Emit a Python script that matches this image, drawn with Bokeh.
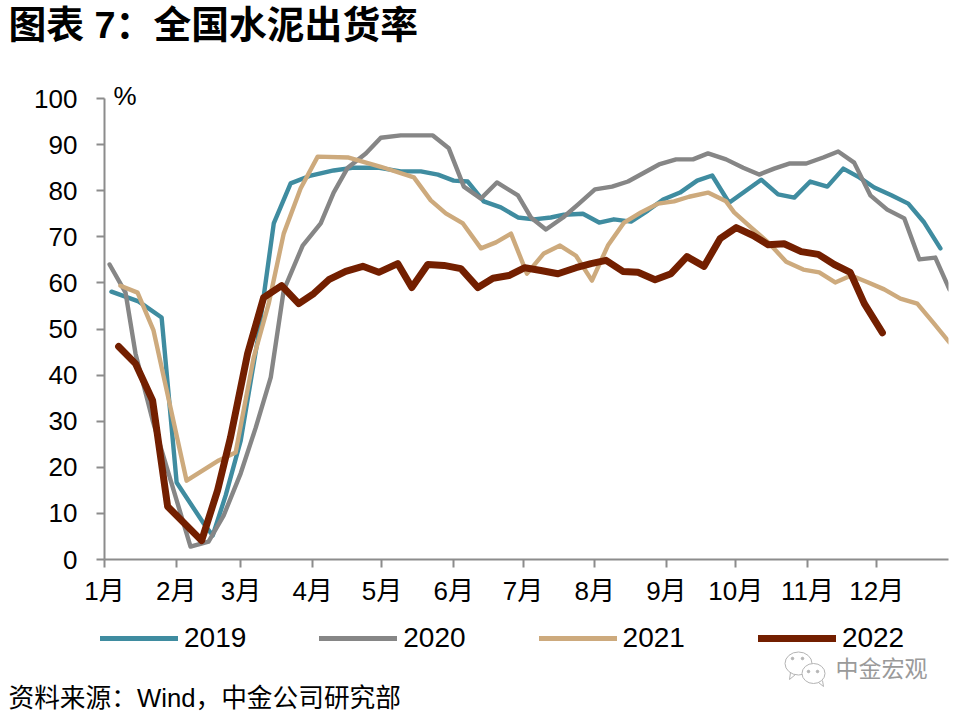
from bokeh.plotting import figure
from bokeh.layouts import column
from bokeh.models import Label, Legend, LegendItem, FixedTicker, Range1d
from bokeh.embed import file_html
from bokeh.resources import INLINE

month_days = [0, 31, 59, 90, 120, 151, 181, 212, 243, 273, 304, 334]
month_labels = ["1月", "2月", "3月", "4月", "5月", "6月", "7月", "8月", "9月", "10月", "11月", "12月"]
y_ticks = [0, 10, 20, 30, 40, 50, 60, 70, 80, 90, 100]

x2019 = [3, 14.7, 24.7, 31.2, 42.9, 46.8, 52.4, 58.9, 66.2, 73.2, 80.5, 89.2, 99.1, 107.8, 118.2, 128.1, 136.8, 144.2, 151, 157.1, 164, 171.4, 178.8, 185.7, 193, 198.7, 206.9, 213.9, 220.3, 227.7, 235, 241.6, 248.9, 256.3, 262.8, 270.1, 284, 291.3, 298.3, 305.2, 312.6, 319.5, 326.4, 332.9, 340.3, 347.6, 354.5, 361.5]
y2019 = [58.1, 56, 52.5, 16.7, 7.8, 5.2, 13.9, 25.8, 47.5, 72.9, 81.6, 83.3, 84.4, 85, 85, 84.2, 84.2, 83.5, 82.2, 82, 77.7, 76.4, 74.2, 73.8, 74.2, 74.8, 75, 73.1, 73.8, 73.3, 75.7, 78.1, 79.6, 82.2, 83.3, 77.4, 82.4, 79.2, 78.5, 82, 80.9, 84.8, 82.9, 80.7, 79, 77.2, 73.1, 67.5]

x2020 = [2.2, 9.1, 13.4, 20.8, 27.7, 37.2, 45, 51.5, 58.9, 65.4, 71.9, 77.5, 85.7, 93.5, 99.1, 105.2, 113, 119.5, 128.1, 142, 148.9, 155.4, 162.8, 169.7, 178.8, 184.4, 190.9, 198.3, 205.2, 212.1, 219.5, 226.4, 233.3, 239.8, 247.2, 254.5, 261, 268.8, 276.2, 283.1, 289.6, 296.1, 303.5, 310.8, 317.3, 324.2, 331.2, 338.5, 345.9, 352.4, 359.3, 365.4]
y2020 = [64, 57.9, 44.7, 30.2, 18.7, 2.8, 3.9, 9.5, 18.7, 28.6, 39.5, 58.4, 68.1, 72.9, 79.6, 85, 88.1, 91.5, 92, 92, 89.2, 80.9, 78.3, 81.8, 79, 74.2, 71.6, 74.2, 77.2, 80.3, 80.9, 82, 83.9, 85.7, 86.8, 86.8, 88.1, 86.8, 85, 83.5, 84.8, 85.9, 85.9, 87.2, 88.5, 86.1, 79, 75.9, 74, 65.1, 65.5, 58.6]

x2021 = [6.9, 14.3, 21.2, 35.5, 49.4, 56.7, 64.5, 71, 77.5, 84.8, 92.2, 105.6, 119.5, 133.8, 141.1, 147.6, 155, 162.8, 169.3, 175.8, 182.7, 190, 197, 203.9, 210.8, 217.7, 224.7, 232, 239.4, 246.3, 252.8, 261, 268.8, 272.3, 279.7, 287, 294.8, 302.2, 309.1, 316, 322.9, 330.3, 337.2, 344.2, 351.5, 358.4, 365.4]
y2021 = [59.4, 57.9, 49.7, 17.1, 21.5, 23.2, 43.8, 55.5, 70.7, 80.5, 87.4, 87.2, 85.2, 82.9, 77.9, 75.1, 72.9, 67.5, 68.8, 70.7, 62, 66.4, 68.1, 65.9, 60.5, 68.1, 73.1, 75.3, 77.2, 77.7, 78.7, 79.6, 77.7, 75.3, 72, 68.8, 64.6, 62.9, 62.3, 60.1, 61.6, 60.1, 58.6, 56.6, 55.5, 51.4, 47.1]

x2022 = [6.1, 13.4, 20.8, 27.3, 42, 48.9, 54.5, 61.9, 68.8, 76.6, 84, 90.5, 97, 104.3, 111.7, 118.6, 126.8, 132.9, 139.8, 146.8, 154.1, 161.5, 168, 174.9, 181.8, 188.7, 196.1, 203.9, 210.4, 216.9, 224.2, 230.7, 238.1, 245, 251.9, 259.3, 266.2, 273.2, 280.5, 287, 293.9, 301.3, 308.7, 315.6, 322.5, 328.6, 336.4]
y2022 = [46.2, 42.5, 34.5, 11.5, 4.1, 15, 26.5, 44.7, 56.8, 59.4, 55.5, 57.7, 60.7, 62.5, 63.6, 62.3, 64.2, 59, 64, 63.8, 63.1, 59, 61, 61.6, 63.3, 62.7, 62, 63.3, 64.2, 64.9, 62.5, 62.3, 60.7, 62, 65.7, 63.6, 69.6, 72, 70.3, 68.3, 68.5, 66.8, 66.2, 64, 62.3, 55.5, 49.2]

FONT = "Liberation Sans, Noto Sans CJK SC"
AXIS = "#8c8c8c"
W, PAGE_H = 960, 712
HEAD_H = 75      # band above the plot area
FRAME_BOTTOM = 559
MAIN_BOTTOM = 609


def band(height, top):
    """A blank strip of the page whose frame fills it; coordinates are page pixels."""
    f = figure(width=W, height=height, output_backend="svg", toolbar_location=None,
               x_range=Range1d(0, W), y_range=Range1d(top + height, top),
               x_axis_type=None, y_axis_type=None, min_border=0, frame_align=False)
    f.outline_line_color = None
    f.grid.visible = False
    return f


def text(f, px, py, s, size, color="black", style="normal", font=FONT):
    f.add_layout(Label(x=px, y=py, text=s, text_font=font, text_font_size=size,
                       text_color=color, text_font_style=style,
                       text_align="left", text_baseline="middle"))


# header
head = band(HEAD_H, 0)
text(head, 8, 24, "图表 7：全国水泥出货率", "37.8px", style="bold")

# chart
p = figure(width=W, height=MAIN_BOTTOM - HEAD_H, output_backend="svg", toolbar_location=None,
           x_range=Range1d(0, 365), y_range=Range1d(0, 105), frame_align=False,
           min_border_left=104, min_border_right=12, min_border_top=0,
           min_border_bottom=MAIN_BOTTOM - FRAME_BOTTOM)
p.outline_line_color = None
p.grid.visible = False
p.xaxis.ticker = FixedTicker(ticks=month_days)
p.xaxis.major_label_overrides = dict(zip(month_days, month_labels))
p.yaxis.ticker = FixedTicker(ticks=y_ticks)
p.yaxis.bounds = (0, 100)
for ax in (p.xaxis[0], p.yaxis[0]):
    ax.axis_line_color = AXIS
    ax.axis_line_width = 2
    ax.major_tick_line_color = AXIS
    ax.major_tick_line_width = 2
    ax.major_tick_in = 0
    ax.major_tick_out = 8
    ax.minor_tick_line_color = None
    ax.major_label_text_font = FONT
    ax.major_label_text_font_size = "26px"
    ax.major_label_text_color = "black"
p.xaxis.major_label_standoff = 8
p.yaxis.major_label_standoff = 19

series = [("2019", x2019, y2019, "#3f8ca0", 4.4),
          ("2020", x2020, y2020, "#868686", 4.4),
          ("2021", x2021, y2021, "#cdaa7d", 4.4),
          ("2022", x2022, y2022, "#731f00", 7)]
for name, xs, ys, col, w in series:
    p.line(xs, ys, line_color=col, line_width=w, line_cap="round", line_join="round")
p.add_layout(Label(x=9, y=FRAME_BOTTOM - 95, x_units="screen", y_units="screen", text="%",
                   text_font=FONT, text_font_size="26px", text_color="black",
                   text_baseline="middle"))

# footer: legend, watermark, source
foot = band(PAGE_H - MAIN_BOTTOM, MAIN_BOTTOM)
items = []
for name, xs, ys, col, w in series:
    r = foot.line([float("nan")], [float("nan")], line_color=col, line_width=5 if w < 6 else w,
                  line_cap="round", line_join="round")
    items.append(LegendItem(label=name, renderers=[r]))
legend = Legend(items=items, orientation="horizontal", location=(100, 58),
                glyph_width=78, glyph_height=30, label_standoff=6, spacing=73,
                padding=0, margin=0, border_line_color=None, background_fill_alpha=0,
                label_height=30, label_text_font=FONT, label_text_font_size="28px",
                label_text_color="black")
foot.add_layout(legend, "center")

ICON = "#b4b4b4"
foot.ellipse([798], [663], width=27, height=23, fill_color="white", line_color=ICON, line_width=1)
foot.line([790, 789, 795], [672, 679, 674], line_color=ICON, line_width=1)
foot.ellipse([813], [673], width=23, height=20, fill_color="white", line_color=ICON, line_width=1)
foot.line([818, 823, 822], [682, 686, 680], line_color=ICON, line_width=1)
foot.scatter([792, 802, 808, 817], [658, 658, 671, 671], size=2.5, color=ICON)
text(foot, 835, 668, "中金宏观", "23px", color="#9a9a9a")
text(foot, 8, 697, "资料来源：Wind，中金公司研究部", "25.7px")

open("out.html", "w").write(file_html(column(head, p, foot, spacing=0), INLINE))
